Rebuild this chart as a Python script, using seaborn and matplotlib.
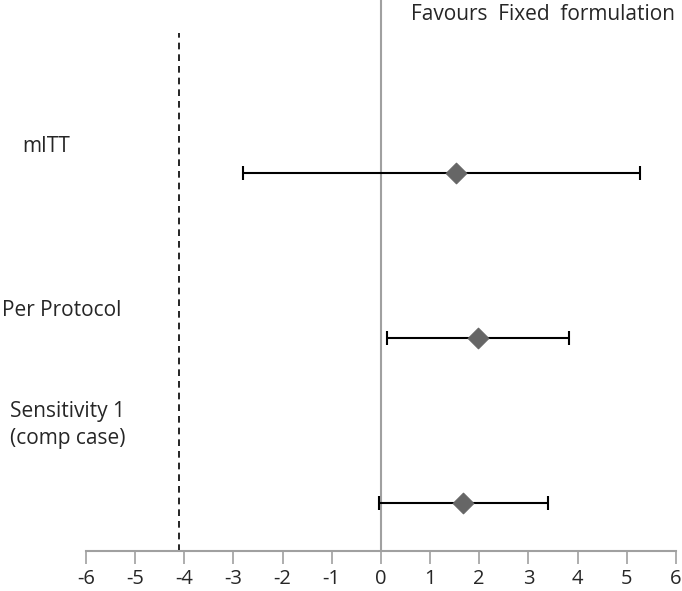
import pandas as pd
import seaborn as sns
import matplotlib.pyplot as plt

# Forest plot data (difference, 95% CI)
analyses = ["mITT", "Per Protocol", "Sensitivity 1\n(comp case)"]
estimate = [1.52, 1.97, 1.68]
lower = [-2.80, 0.12, -0.04]
upper = [5.28, 3.82, 3.40]
ypos = [3, 2, 1]
margin = -4.1
xticks = list(range(-6, 7))

df = pd.DataFrame({"analysis": analyses, "est": estimate, "lo": lower, "hi": upper, "y": ypos})

sns.set_style("white")
plt.rcParams["font.family"] = ["Open Sans", "DejaVu Sans"]

fig = plt.figure(figsize=(6.82, 5.91), dpi=100)
ax = fig.add_axes([0.126, 0.0677, 0.865, 0.9323])

# zero line and non-inferiority margin
ax.axvline(0, color="#a0a0a0", lw=1.5, zorder=1)
ax.plot([margin, margin], [0.709, 3.85], color="black", lw=1.2, ls=(0, (4, 3)), zorder=1)

# confidence intervals
ax.errorbar(df["est"], df["y"], xerr=[df["est"] - df["lo"], df["hi"] - df["est"]],
            fmt="none", ecolor="black", elinewidth=1.5, capsize=5, capthick=1.5, zorder=2)
sns.scatterplot(x="est", y="y", data=df, marker="D", s=110, color="#666666",
                edgecolor="#666666", ax=ax, zorder=3, legend=False)

ax.set_xlim(-6, 6)
ax.set_ylim(0.709, 4.05)
ax.set_xticks(xticks)
ax.set_xticklabels([str(t) for t in xticks], fontsize=14.5)
ax.set_yticks([])
ax.set_xlabel("")
ax.set_ylabel("")
for s in ["top", "right", "left"]:
    ax.spines[s].set_visible(False)
ax.spines["bottom"].set_color("#a0a0a0")
ax.spines["bottom"].set_linewidth(1.5)
ax.tick_params(axis="x", direction="out", length=9, width=1.2, color="#a0a0a0", pad=4, bottom=True)

# labels
fs = 15
fig.text(22 / 682, 1 - 146 / 591, analyses[0], fontsize=fs, va="center", ha="left")
fig.text(2 / 682, 1 - 311 / 591, analyses[1], fontsize=fs, va="center", ha="left")
fig.text(10 / 682, 1 - 425 / 591, analyses[2], fontsize=fs, va="center", ha="left", linespacing=1.35)
fig.text(675 / 682, 1 - 14 / 591, "Favours  Fixed  formulation", fontsize=fs, va="center", ha="right")

fig.savefig("out.png", dpi=100)
